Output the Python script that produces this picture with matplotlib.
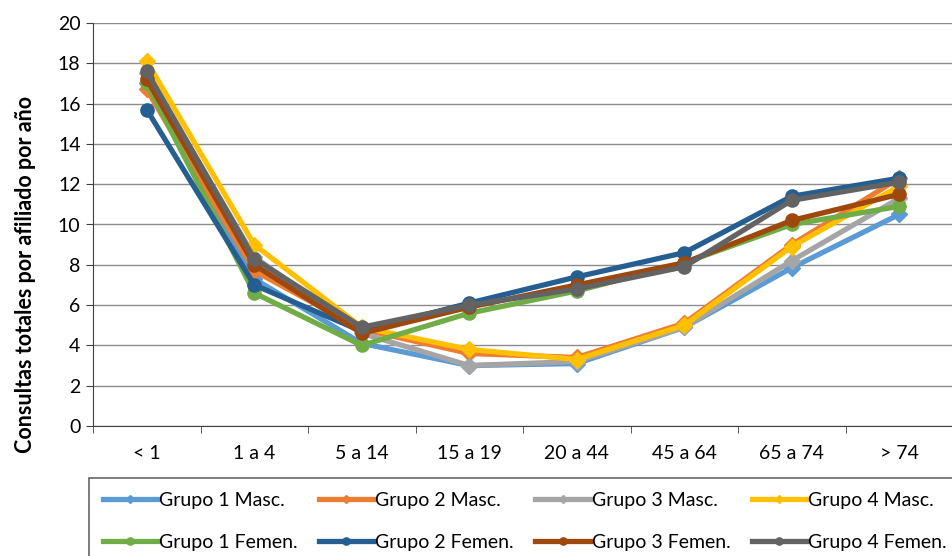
import matplotlib.pyplot as plt

plt.rcParams['font.family'] = ['Lato', 'DejaVu Sans']

# Age groups on the x axis
grupos_edad = ["< 1", "1 a 4", "5 a 14", "15 a 19", "20 a 44", "45 a 64", "65 a 74", "> 74"]

# Consultations per affiliate per year
g1_masc = [17.0, 7.3, 4.1, 3.0, 3.1, 4.9, 7.85, 10.5]
g2_masc = [16.7, 7.7, 4.8, 3.6, 3.4, 5.1, 9.0, 12.3]
g3_masc = [17.5, 8.4, 4.6, 3.0, 3.2, 4.9, 8.2, 11.3]
g4_masc = [18.1, 9.0, 4.9, 3.8, 3.3, 5.0, 8.9, 11.9]
g1_femen = [17.0, 6.6, 4.0, 5.6, 6.7, 8.1, 10.0, 10.9]
g2_femen = [15.7, 7.0, 4.7, 6.1, 7.4, 8.6, 11.4, 12.3]
g3_femen = [17.2, 8.0, 4.6, 5.9, 7.0, 8.1, 10.2, 11.5]
g4_femen = [17.6, 8.3, 4.9, 6.0, 6.8, 7.9, 11.2, 12.1]

series = [
    ("Grupo 1 Masc.", g1_masc, "#5b9bd5", "D"),
    ("Grupo 2 Masc.", g2_masc, "#ed7d31", "D"),
    ("Grupo 3 Masc.", g3_masc, "#a5a5a5", "D"),
    ("Grupo 4 Masc.", g4_masc, "#ffc000", "D"),
    ("Grupo 1 Femen.", g1_femen, "#70ad47", "o"),
    ("Grupo 2 Femen.", g2_femen, "#255e91", "o"),
    ("Grupo 3 Femen.", g3_femen, "#9e480e", "o"),
    ("Grupo 4 Femen.", g4_femen, "#636363", "o"),
]

fig = plt.figure(figsize=(9.52, 5.56), dpi=100)
ax = fig.add_axes([93 / 952, 130 / 556, 860 / 952, 403 / 556])

x = range(len(grupos_edad))
handles = []
for label, vals, color, marker in series:
    ms = 8 if marker == "D" else 9.5
    h, = ax.plot(x, vals, color=color, lw=3.8, marker=marker, ms=ms,
                 label=label, solid_joinstyle="miter")
    handles.append(h)

ax.set_xlim(-0.5, len(grupos_edad) - 0.5)
ax.set_ylim(0, 20)
ax.set_yticks(range(0, 21, 2))
ax.set_xticks(list(x))
ax.set_xticklabels(grupos_edad, fontsize=14)
ax.set_xticks([i - 0.5 for i in range(len(grupos_edad) + 1)], minor=True)
ax.tick_params(axis="x", which="major", length=0, pad=14)
ax.tick_params(axis="x", which="minor", length=5, color="#404040")
ax.tick_params(axis="y", length=5, color="#404040", labelsize=14, pad=4)

ax.grid(axis="y", color="#8c8c8c", lw=1)
ax.set_axisbelow(True)
for side in ["top", "right"]:
    ax.spines[side].set_visible(False)
for side in ["left", "bottom"]:
    ax.spines[side].set_color("#404040")

ax.set_ylabel("Consultas totales por afiliado por año", fontsize=15.5,
              fontweight="bold")
ax.yaxis.set_label_coords(-0.066, 0.375)

# legend filled row by row: masc on top, femen below
order = [0, 4, 1, 5, 2, 6, 3, 7]
leg = fig.legend([handles[i] for i in order], [series[i][0] for i in order],
                 loc="upper left", bbox_to_anchor=(89 / 952, 1 - 478 / 556),
                 borderaxespad=0, ncol=4, fontsize=14, frameon=True,
                 fancybox=False, markerscale=0.55, handlelength=2.8,
                 columnspacing=1.1, borderpad=0.7, labelspacing=1.3,
                 handletextpad=0.1)
leg.get_frame().set_edgecolor("#404040")
leg.get_frame().set_linewidth(1.2)

plt.savefig("out.png", dpi=100)
